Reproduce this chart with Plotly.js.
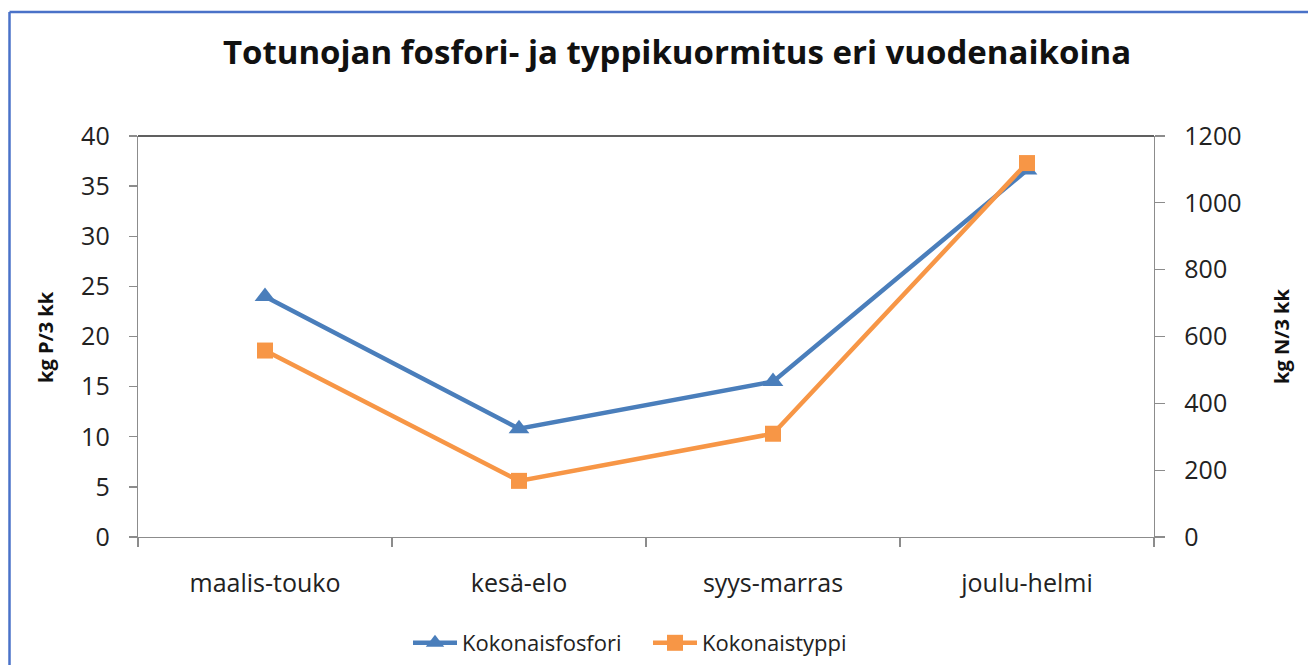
<!DOCTYPE html>
<html>
<head>
<meta charset="utf-8">
<script src="https://cdn.plot.ly/plotly-3.0.1.min.js"></script>
<style>
html,body{margin:0;padding:0;background:#fff;}
#chart{width:1308px;height:665px;}
</style>
</head>
<body>
<div id="chart"></div>
<script>
const categories = ["maalis-touko", "kesä-elo", "syys-marras", "joulu-helmi"];
const fosfori = [24.0, 10.8, 15.5, 36.6];       // kg P / 3 kk (left axis)
const typpi = [558, 168, 309, 1119];             // kg N / 3 kk (right axis)
const leftTicks = [0, 5, 10, 15, 20, 25, 30, 35, 40];
const rightTicks = [0, 200, 400, 600, 800, 1000, 1200];

const FONT = "Open Sans, Liberation Sans, sans-serif";
const blue = "#4A7EBB";
const orange = "#F79646";

const traces = [
  {
    x: categories, y: fosfori, name: "Kokonaisfosfori",
    type: "scatter", mode: "lines+markers", yaxis: "y",
    line: {color: blue, width: 4.5},
    marker: {symbol: "triangle-up", size: 18, color: blue}
  },
  {
    x: categories, y: typpi, name: "Kokonaistyppi",
    type: "scatter", mode: "lines+markers", yaxis: "y2",
    line: {color: orange, width: 4.5},
    marker: {symbol: "square", size: 16, color: orange}
  }
];

const L = 138, R = 154, T = 136, B = 128, W = 1308, H = 665;
const pw = W - L - R, ph = H - T - B;
const px = v => (v - L) / pw;
const py = v => (H - B - v) / ph;

const layout = {
  width: W, height: H,
  margin: {l: L, r: R, t: T, b: B, pad: 0, autoexpand: false},
  paper_bgcolor: "#fff", plot_bgcolor: "#fff",
  font: {family: FONT, color: "#222"},
  title: {
    text: "<b>Totunojan fosfori- ja typpikuormitus eri vuodenaikoina</b>",
    font: {family: FONT, size: 33, color: "#111"},
    x: px(677), xref: "paper", xanchor: "center",
    y: 1 - 52 / H, yref: "container", yanchor: "middle"
  },
  xaxis: {
    type: "category", tickson: "boundaries", range: [-0.5, 3.5], automargin: false,
    showline: true, linecolor: "#8c8c8c", linewidth: 1.3,
    ticks: "outside", ticklen: 9, tickcolor: "#8c8c8c", tickwidth: 1.3,
    tickfont: {family: FONT, size: 25, color: "#222"},
    ticklabelstandoff: 24,
    showgrid: false, zeroline: false, fixedrange: true
  },
  yaxis: {
    range: [0, 40], tickvals: leftTicks, automargin: false,
    showline: true, linecolor: "#8c8c8c", linewidth: 1.3,
    ticks: "outside", ticklen: 8, tickcolor: "#8c8c8c", tickwidth: 1.3,
    tickfont: {family: FONT, size: 25, color: "#222"},
    ticklabelstandoff: 14,
    showgrid: false, zeroline: false, fixedrange: true
  },
  yaxis2: {
    range: [0, 1200], tickvals: rightTicks, automargin: false,
    overlaying: "y", side: "right",
    showline: true, linecolor: "#8c8c8c", linewidth: 1.3,
    ticks: "outside", ticklen: 10, tickcolor: "#8c8c8c", tickwidth: 1.3,
    tickfont: {family: FONT, size: 25, color: "#222"},
    ticklabelstandoff: 14,
    showgrid: false, zeroline: false, fixedrange: true
  },
  showlegend: true,
  legend: {
    orientation: "h", xref: "container", x: 648 / W, xanchor: "center",
    yref: "container", y: 1 - 643 / H, yanchor: "middle",
    font: {family: FONT, size: 22, color: "#222"},
    itemwidth: 44, entrywidth: 181, entrywidthmode: "pixels",
    tracegroupgap: 0, bgcolor: "rgba(0,0,0,0)"
  },
  annotations: [
    {text: "<b>kg P/3 kk</b>", textangle: -90, xref: "paper", yref: "paper",
     x: px(45), y: py(337), xanchor: "center", yanchor: "middle", showarrow: false,
     font: {family: FONT, size: 20, color: "#111"}},
    {text: "<b>kg N/3 kk</b>", textangle: -90, xref: "paper", yref: "paper",
     x: px(1281), y: py(337), xanchor: "center", yanchor: "middle", showarrow: false,
     font: {family: FONT, size: 20, color: "#111"}}
  ],
  shapes: [
    {type: "line", xref: "paper", yref: "paper", x0: 0, x1: 1, y0: 1, y1: 1,
     line: {color: "#2b2b2b", width: 1.5}},
    {type: "line", xref: "paper", yref: "paper", x0: px(9.5), x1: px(9.5), y0: py(12), y1: py(680),
     line: {color: "#4a72c8", width: 2.5}},
    {type: "line", xref: "paper", yref: "paper", x0: px(9.5), x1: px(1320), y0: py(12), y1: py(12),
     line: {color: "#4a72c8", width: 2.5}}
  ]
};

Plotly.newPlot("chart", traces, layout, {displayModeBar: false, staticPlot: true});
</script>
</body>
</html>
